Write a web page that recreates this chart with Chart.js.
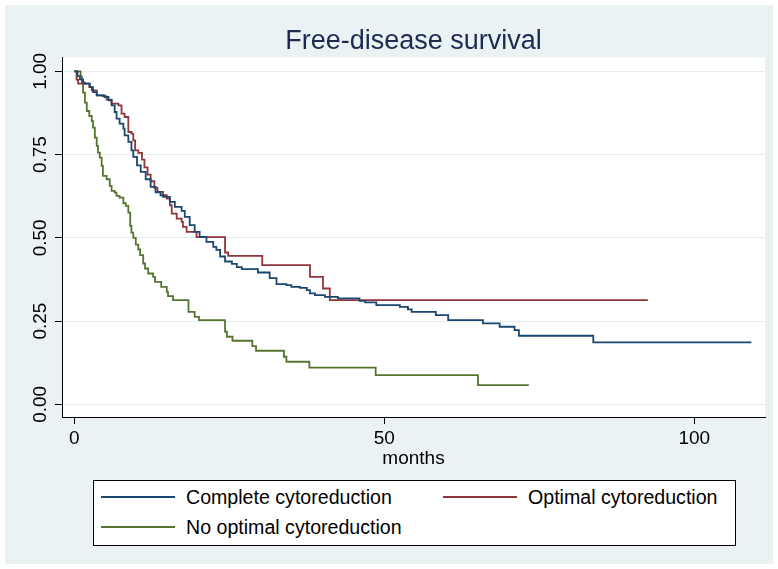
<!DOCTYPE html>
<html><head><meta charset="utf-8">
<script src="https://cdn.jsdelivr.net/npm/chart.js@4.4.1/dist/chart.umd.min.js"></script>
<style>
html,body{margin:0;padding:0;background:#fff;}
#wrap{position:relative;width:778px;height:569px;overflow:hidden;}
#bg{position:absolute;left:5px;top:5px;width:768px;height:559px;background:#eaf2f3;}
#c{position:absolute;left:0;top:0;}
#legend{position:absolute;left:93px;top:480px;width:641px;height:64px;border:1px solid #000;background:#fff;font-family:"Liberation Sans",Arial,sans-serif;font-size:19.6px;color:#000;}
.item{position:absolute;display:flex;align-items:center;white-space:nowrap;height:22px;}
.swatch{width:74px;height:2px;margin-right:11px;}
</style></head>
<body>
<div id="wrap">
<div id="bg"></div>
<canvas id="c" width="778" height="569"></canvas>
<div id="legend"></div>
</div>
<script>
const titleText = 'Free-disease survival';
const xTitle = 'months';
const seriesNames = ['Complete cytoreduction', 'Optimal cytoreduction', 'No optimal cytoreduction'];
const seriesColors = ['#1a476f', '#90353b', '#55752f'];

const completeTime = [0,0.5,0.9,1.4,1.7,2.5,3.0,3.6,4.9,5.5,6.0,6.5,6.8,7.3,7.9,8.1,8.7,9.2,9.5,10.1,10.7,11.5,12.3,13.1,13.9,14.3,15.4,16.2,17.3,17.8,18.6,19.4,20.2,21.3,22.4,22.9,23.5,24.3,25.4,26.2,27.0,29.6,31.5,32.6,34.2,35.0,36.4,37.5,38.0,38.8,40.4,42.5,46.0,46.9,48.7,52.5,53.8,54.4,58.3,60.3,65.9,68.6,71.0,71.7,83.7,109.2];
const completeSurv = [1,0.986,0.976,0.966,0.963,0.953,0.938,0.928,0.923,0.913,0.898,0.878,0.858,0.843,0.828,0.808,0.788,0.763,0.743,0.718,0.698,0.676,0.653,0.637,0.628,0.623,0.608,0.593,0.581,0.563,0.538,0.518,0.503,0.488,0.473,0.464,0.444,0.429,0.422,0.412,0.406,0.396,0.379,0.361,0.358,0.353,0.350,0.343,0.333,0.328,0.323,0.318,0.311,0.306,0.298,0.293,0.285,0.278,0.268,0.253,0.243,0.233,0.223,0.206,0.186,0.186];

const optimalTime = [0,0.35,0.6,2.4,2.8,3.6,4.6,5.2,6.0,7.1,7.6,8.1,8.7,9.2,9.5,9.8,10.3,10.9,11.3,11.8,12.3,12.9,13.4,14.3,14.9,15.4,15.7,16.5,17.3,17.5,18.1,19.7,24.3,24.8,30.3,38.0,40.1,41.2,92.5];
const optimalSurv = [1,0.975,0.963,0.953,0.943,0.928,0.925,0.915,0.903,0.898,0.873,0.863,0.818,0.813,0.793,0.763,0.755,0.735,0.712,0.690,0.670,0.650,0.638,0.628,0.618,0.598,0.573,0.558,0.548,0.533,0.518,0.502,0.456,0.446,0.418,0.383,0.348,0.313,0.313];

const noOptTime = [0,1.0,1.2,1.4,1.7,2.0,2.4,2.8,3.0,3.3,3.6,3.8,4.1,4.4,4.6,5.2,5.7,6.0,6.5,6.8,7.3,7.9,8.3,8.7,9.0,9.2,9.5,9.9,10.3,10.6,11.1,11.4,11.9,12.7,13.0,14.0,14.9,15.1,15.9,18.4,19.4,20.1,24.3,24.6,25.5,28.7,29.3,33.8,34.2,37.9,48.6,65.1,73.3];
const noOptSurv = [1,0.985,0.966,0.936,0.906,0.881,0.866,0.851,0.831,0.801,0.776,0.756,0.741,0.716,0.686,0.676,0.656,0.641,0.636,0.626,0.621,0.604,0.596,0.576,0.536,0.516,0.500,0.480,0.465,0.448,0.423,0.408,0.393,0.383,0.368,0.353,0.338,0.325,0.313,0.278,0.263,0.253,0.218,0.203,0.191,0.175,0.161,0.143,0.128,0.110,0.088,0.058,0.058];

const xTicks = [0, 50, 100];
const xTickLabels = ['0', '50', '100'];
const yTicks = [0, 0.25, 0.5, 0.75, 1];
const yTickLabels = ['0.00', '0.25', '0.50', '0.75', '1.00'];

const FONT = "'Liberation Sans', Arial, Helvetica, sans-serif";
const toPts = (t, s) => t.map((v, i) => ({x: v, y: s[i]}));

const plotBg = {
  id: 'plotBg',
  beforeDraw(chart) {
    const {ctx, chartArea: a} = chart;
    ctx.save();
    ctx.fillStyle = '#ffffff';
    ctx.fillRect(a.left, a.top, a.right - a.left, a.bottom - a.top);
    ctx.restore();
  }
};

const series = [[completeTime, completeSurv], [optimalTime, optimalSurv], [noOptTime, noOptSurv]];

new Chart(document.getElementById('c'), {
  type: 'line',
  data: {
    datasets: series.map((s, i) => ({
      label: seriesNames[i],
      data: toPts(s[0], s[1]),
      borderColor: seriesColors[i],
      backgroundColor: seriesColors[i],
      borderWidth: 1.8,
      pointRadius: 0,
      stepped: 'before',
      fill: false
    }))
  },
  options: {
    responsive: false,
    animation: false,
    devicePixelRatio: 1,
    layout: {padding: {left: 0, right: 13, top: 0, bottom: 92}},
    plugins: {
      legend: {display: false},
      tooltip: {enabled: false},
      title: {
        display: true, text: titleText, fullSize: false, color: '#1c2b4f',
        font: {family: FONT, size: 27, weight: 'normal'},
        padding: {top: 25, bottom: 0}
      }
    },
    scales: {
      x: {
        type: 'linear', min: -2.0, max: 111.4,
        afterBuildTicks: s => { s.ticks = xTicks.map(v => ({value: v})); },
        afterFit: s => { s.height = 60; },
        ticks: {
          color: '#000', font: {family: FONT, size: 19}, padding: 3,
          minRotation: 0, maxRotation: 0,
          callback: (v, i) => xTickLabels[i]
        },
        grid: {display: true, drawOnChartArea: false, tickColor: '#000', tickLength: 7, tickWidth: 1},
        border: {display: true, color: '#000', width: 1},
        title: {display: true, text: xTitle, color: '#000', font: {family: FONT, size: 19}, padding: {top: 0, bottom: 7}}
      },
      y: {
        type: 'linear', min: -0.038, max: 1.042,
        afterBuildTicks: s => { s.ticks = yTicks.map(v => ({value: v})); },
        afterFit: s => { s.width = 62; },
        ticks: {
          color: '#000', font: {family: FONT, size: 19}, padding: -4,
          minRotation: 90, maxRotation: 90, crossAlign: 'center',
          callback: (v, i) => yTickLabels[i]
        },
        grid: {display: true, color: '#e4edef', lineWidth: 1, tickColor: '#000', tickLength: 7, tickWidth: 1},
        border: {display: true, color: '#000', width: 1}
      }
    }
  },
  plugins: [plotBg]
});

// legend box (real text)
const legend = document.getElementById('legend');
const legendPos = [[7, 5], [349, 5], [7, 35]];
seriesNames.forEach((name, i) => {
  const it = document.createElement('div');
  it.className = 'item';
  it.style.left = legendPos[i][0] + 'px';
  it.style.top = legendPos[i][1] + 'px';
  const sw = document.createElement('span');
  sw.className = 'swatch';
  sw.style.background = seriesColors[i];
  const tx = document.createElement('span');
  tx.textContent = name;
  it.appendChild(sw); it.appendChild(tx);
  legend.appendChild(it);
});
</script>
</body></html>
